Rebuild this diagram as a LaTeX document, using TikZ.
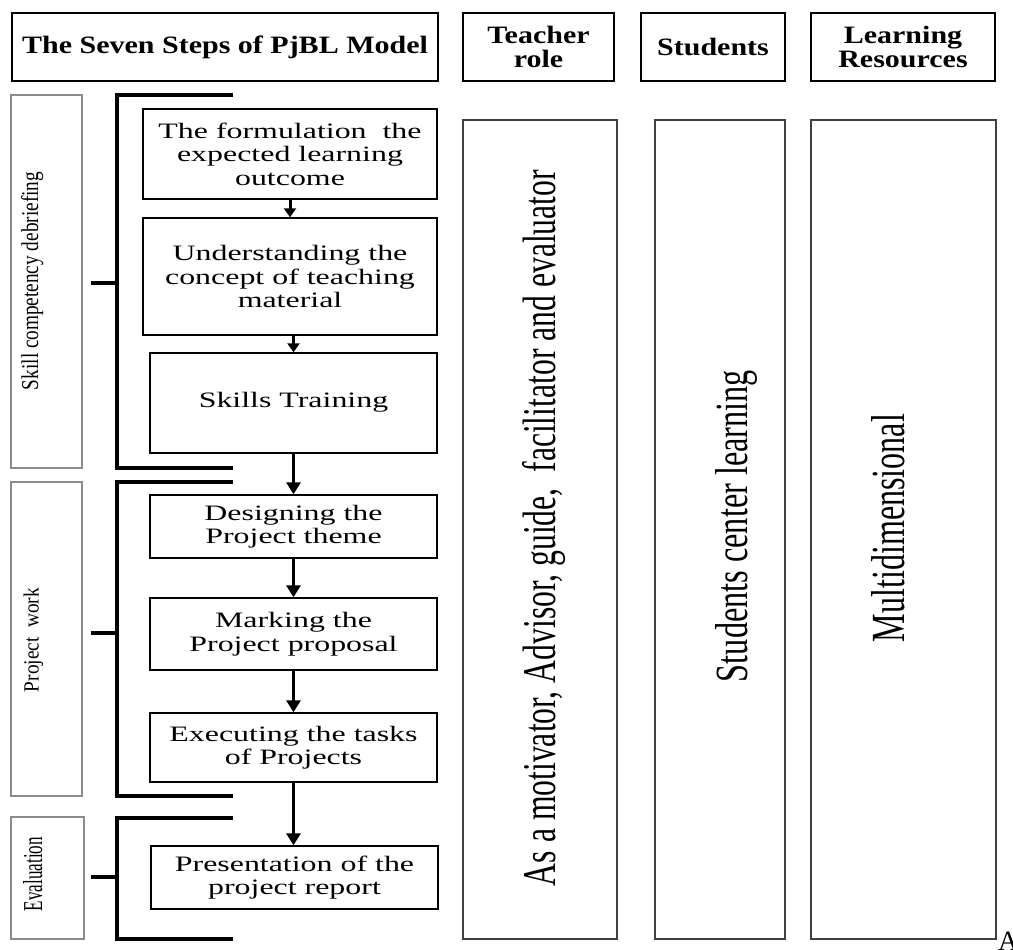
\documentclass[tikz,border=0pt]{standalone}
\usepackage{fontspec}
\setmainfont{Liberation Serif}
\newfontfamily\stepfont[FakeStretch=1.45]{Liberation Serif}
\newfontfamily\headfont[FakeStretch=1.2]{Liberation Serif}
\usetikzlibrary{arrows.meta}
\tikzset{
  headbox/.style={draw=black, line width=1.4pt, inner sep=0pt, align=center,
    font=\headfont\bfseries\fontsize{25}{23.5}\selectfont},
  stepbox/.style={draw=black, line width=1.4pt, inner sep=0pt, align=center,
    font=\stepfont\fontsize{22}{23.5}\selectfont},
  bodybox/.style={draw=black!75, line width=1.3pt, inner sep=0pt},
  labelbox/.style={draw=black!45, line width=1.1pt, inner sep=0pt},
  vtext/.style={rotate=90, anchor=base, inner sep=0pt},
  bracket/.style={line width=4pt},
  flow/.style={line width=3pt, -{Triangle[width=14pt,length=12pt]}},
  shortflow/.style={line width=3pt, -{Triangle[width=12pt,length=9pt]}}
}
\begin{document}
\begin{tikzpicture}[x=1pt,y=-1pt]
\useasboundingbox[fill=white] (0,0) rectangle (1013,950);

% header row
\node[headbox, minimum width=426pt, minimum height=68pt] (h1) at (225,47) {The Seven Steps of PjBL Model};
\node[headbox, minimum width=151pt, minimum height=68pt] (h2) at (538.5,47) {Teacher\\role};
\node[headbox, minimum width=144pt, minimum height=68pt] (h3) at (713,47) {Students};
\node[headbox, minimum width=184pt, minimum height=68pt] (h4) at (903,47) {Learning\\Resources};

% left phase label boxes
\node[labelbox, minimum width=71pt, minimum height=373pt] (l1) at (46.5,281.5) {};
\node[labelbox, minimum width=71pt, minimum height=314pt] (l2) at (46.5,639) {};
\node[labelbox, minimum width=73pt, minimum height=122pt] (l3) at (47.5,878) {};
\node[vtext] (t1) at (38,281) {\resizebox{218pt}{17pt}{Skill competency debriefing}};
\node[vtext] (t2) at (38.5,640) {\resizebox{104pt}{15pt}{Project\ \ work}};
\node[vtext] (t3) at (42,874) {\resizebox{74pt}{19pt}{Evaluation}};

% brackets
\draw[bracket] (233,95) -- (117,95) -- (117,468) -- (233,468);
\draw[bracket] (91,283) -- (117,283);
\draw[bracket] (233,482) -- (117,482) -- (117,796) -- (233,796);
\draw[bracket] (91,633) -- (117,633);
\draw[bracket] (233,818) -- (117,818) -- (117,939) -- (233,939);
\draw[bracket] (91,877) -- (117,877);

% step boxes
\node[stepbox, minimum width=294pt, minimum height=90pt] (s1) at (290,154) {The formulation\ \ the\\expected learning\\outcome};
\node[stepbox, minimum width=294pt, minimum height=117pt] (s2) at (290,276.5) {Understanding the\\concept of teaching\\material};
\node[stepbox, minimum width=287pt, minimum height=100pt] (s3) at (293.5,403) {\raisebox{7pt}{Skills Training}};
\node[stepbox, minimum width=287pt, minimum height=63pt] (s4) at (293.5,526.5) {Designing the\\Project theme};
\node[stepbox, minimum width=287pt, minimum height=72pt] (s5) at (293.5,634) {Marking the\\Project proposal};
\node[stepbox, minimum width=287pt, minimum height=69pt] (s6) at (293.5,747.5) {Executing the tasks\\of Projects};
\node[stepbox, minimum width=287pt, minimum height=63pt] (s7) at (294.5,877.5) {Presentation of the\\project report};

% arrows
\draw[shortflow] (s1.south) -- (s2.north);
\draw[shortflow] (s3.north |- s2.south) -- (s3.north);
\draw[flow] (s3.south) -- (s4.north);
\draw[flow] (s4.south) -- (s5.north);
\draw[flow] (s5.south) -- (s6.north);
\draw[flow] (s6.south) -- (s6.south |- s7.north);

% right body boxes
\node[bodybox, minimum width=154pt, minimum height=819pt] (b1) at (540,529.5) {};
\node[bodybox, minimum width=130pt, minimum height=819pt] (b2) at (720,529.5) {};
\node[bodybox, minimum width=185pt, minimum height=819pt] (b3) at (903.5,529.5) {};
\node[vtext] (bt1) at (555,528) {\resizebox{716pt}{33pt}{As a motivator, Advisor, guide,\ \ facilitator and evaluator}};
\node[vtext] (bt2) at (747,526) {\resizebox{312pt}{32pt}{Students center learning}};
\node[vtext] (bt3) at (904,528) {\resizebox{228pt}{33pt}{Multidimensional}};

% cut-off letter at the lower right corner
\node[anchor=base west, inner sep=0pt, font=\fontsize{28}{28}\selectfont] (cornerA) at (998,950) {A};
\end{tikzpicture}
\end{document}
